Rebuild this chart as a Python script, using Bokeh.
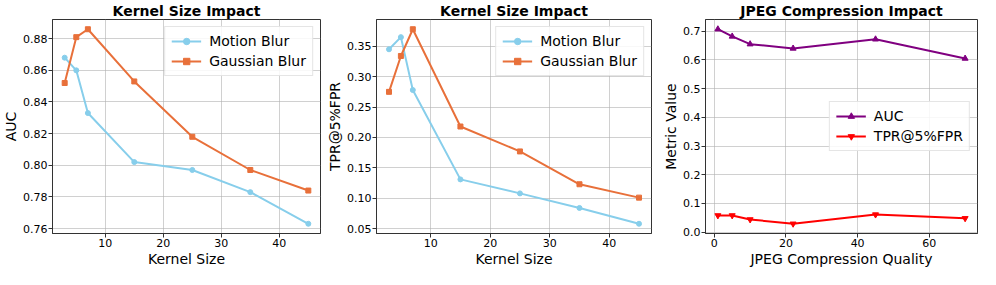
from bokeh.plotting import figure
from bokeh.layouts import row
from bokeh.models import Range1d, FixedTicker, NumeralTickFormatter, Legend
from bokeh.embed import file_html
from bokeh.resources import INLINE

kernel_sizes = [3, 5, 7, 15, 25, 35, 45]
motion_auc = [0.868, 0.860, 0.833, 0.802, 0.797, 0.783, 0.763]
gauss_auc = [0.852, 0.881, 0.886, 0.853, 0.818, 0.797, 0.784]
motion_tpr = [0.345, 0.365, 0.278, 0.131, 0.108, 0.084, 0.058]
gauss_tpr = [0.275, 0.334, 0.378, 0.218, 0.177, 0.123, 0.101]

jpeg_quality = [1, 5, 10, 22, 45, 70]
jpeg_auc = [0.707, 0.682, 0.655, 0.640, 0.672, 0.605]
jpeg_tpr = [0.058, 0.058, 0.044, 0.029, 0.061, 0.048]

FONT = "DejaVu Sans"
SKY = "#87CEEB"
ORANGE = "#E8703A"


def pad(lo, hi, frac=0.05):
    d = (hi - lo) * frac
    return lo - d, hi + d


def make_fig(width, left, right, title, xlabel, ylabel, xr, yr, xticks, yticks, yfmt):
    p = figure(width=width, height=269, output_backend="svg", toolbar_location=None,
               min_border_left=left, min_border_right=right, min_border_top=13,
               min_border_bottom=30, x_range=Range1d(*xr), y_range=Range1d(*yr))
    p.title.text = title
    p.title.text_font = FONT
    p.title.text_font_size = "14px"
    p.title.text_font_style = "bold"
    p.title.align = "center"
    p.title.standoff = 1
    p.title.text_color = "black"
    p.outline_line_color = "#333333"
    p.outline_line_width = 1
    p.background_fill_color = "white"
    p.border_fill_color = "white"
    p.xgrid.grid_line_color = "#b0b0b0"
    p.ygrid.grid_line_color = "#b0b0b0"
    p.xgrid.grid_line_alpha = 0.6
    p.ygrid.grid_line_alpha = 0.6
    p.xaxis.ticker = FixedTicker(ticks=xticks)
    p.yaxis.ticker = FixedTicker(ticks=yticks)
    p.yaxis.formatter = NumeralTickFormatter(format=yfmt)
    for ax, lab in ((p.xaxis, xlabel), (p.yaxis, ylabel)):
        ax.axis_label = lab
        ax.axis_label_text_font = FONT
        ax.axis_label_text_font_size = "14px"
        ax.axis_label_text_font_style = "normal"
        ax.axis_label_text_color = "black"
        ax.axis_label_standoff = 1
        ax.major_label_text_font = FONT
        ax.major_label_text_font_size = "11px"
        ax.major_label_text_color = "black"
        ax.major_label_standoff = 1
        ax.minor_tick_line_color = None
        ax.major_tick_out = 4
        ax.major_tick_in = 0
        ax.major_tick_line_color = "#333333"
        ax.axis_line_color = "#333333"
    return p


def add_series(p, x, y, color, marker, size, label):
    r1 = p.line(x, y, line_color=color, line_width=2)
    r2 = p.scatter(x, y, marker=marker, size=size, fill_color=color, line_color=color)
    return (label, [r1, r2])


def style_legend(p, items, loc):
    lg = Legend(items=[(lab, rs) for lab, rs in items], location=loc)
    lg.label_text_font = FONT
    lg.label_text_font_size = "14px"
    lg.label_text_color = "black"
    lg.glyph_width = 30
    lg.glyph_height = 16
    lg.label_standoff = 8
    lg.label_height = 16
    lg.spacing = 4
    lg.padding = 6
    lg.margin = 7
    lg.border_line_color = "#cccccc"
    lg.border_line_width = 1
    lg.background_fill_alpha = 0.85
    p.add_layout(lg, "center")


# Panel 1
p1 = make_fig(322, 46, 2, "Kernel Size Impact", "Kernel Size", "AUC",
              pad(3, 45), pad(0.763, 0.886), [10, 20, 30, 40],
              [0.76, 0.78, 0.80, 0.82, 0.84, 0.86, 0.88], "0.00")
it1 = [add_series(p1, kernel_sizes, motion_auc, SKY, "circle", 5, "Motion Blur"),
       add_series(p1, kernel_sizes, gauss_auc, ORANGE, "square", 5, "Gaussian Blur")]
style_legend(p1, it1, "top_right")

# Panel 2
p2 = make_fig(332, 54, 3, "Kernel Size Impact", "Kernel Size", "TPR@5%FPR",
              pad(3, 45), pad(0.058, 0.378), [10, 20, 30, 40],
              [0.05, 0.10, 0.15, 0.20, 0.25, 0.30, 0.35], "0.00")
it2 = [add_series(p2, kernel_sizes, motion_tpr, SKY, "circle", 5, "Motion Blur"),
       add_series(p2, kernel_sizes, gauss_tpr, ORANGE, "square", 5, "Gaussian Blur")]
style_legend(p2, it2, "top_right")

# Panel 3
p3 = make_fig(326, 51, 3, "JPEG Compression Impact", "JPEG Compression Quality", "Metric Value",
              pad(1, 70), pad(0.029, 0.707), [0, 20, 40, 60],
              [0.0, 0.1, 0.2, 0.3, 0.4, 0.5, 0.6, 0.7], "0.0")
it3 = [add_series(p3, jpeg_quality, jpeg_auc, "purple", "triangle", 6, "AUC"),
       add_series(p3, jpeg_quality, jpeg_tpr, "red", "inverted_triangle", 6, "TPR@5%FPR")]
style_legend(p3, it3, "center_right")

layout = row(p1, p2, p3, spacing=0)
open("out.html", "w").write(file_html(layout, INLINE))
